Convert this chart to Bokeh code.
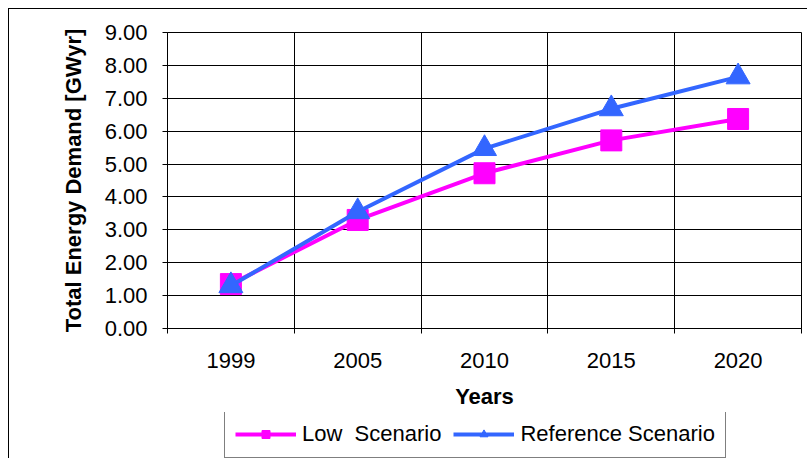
from bokeh.plotting import figure
from bokeh.layouts import column
from bokeh.models import FixedTicker, Legend, LegendItem, ColumnDataSource, NumeralTickFormatter, Range1d
from bokeh.embed import file_html
from bokeh.resources import INLINE

years = ["1999", "2005", "2010", "2015", "2020"]
low_scenario = [1.35, 3.30, 4.72, 5.72, 6.37]
reference_scenario = [1.30, 3.55, 5.47, 6.68, 7.65]
y_ticks = [0, 1, 2, 3, 4, 5, 6, 7, 8, 9]

xpos = list(range(len(years)))
src = ColumnDataSource(dict(x=xpos, low=low_scenario, ref=reference_scenario))

FONT = "Liberation Sans"
FS = "22px"
MAG = "#FF00FF"
BLUE = "#3366FF"

# ---------------- main chart ----------------
p = figure(width=798, height=403, output_backend="svg", toolbar_location=None,
           x_range=Range1d(-0.5, len(years) - 0.5), y_range=Range1d(0, 9),
           min_border_left=158, min_border_right=6, min_border_top=23, min_border_bottom=84)
p.background_fill_color = "white"
p.border_fill_color = "white"
p.outline_line_color = "black"
p.outline_line_width = 1

p.ygrid.ticker = FixedTicker(ticks=y_ticks)
p.ygrid.grid_line_color = "black"
p.ygrid.grid_line_width = 1
p.xgrid.ticker = FixedTicker(ticks=[i + 0.5 for i in xpos[:-1]])
p.xgrid.grid_line_color = "black"
p.xgrid.grid_line_width = 1

ya = p.yaxis[0]
ya.ticker = FixedTicker(ticks=y_ticks)
ya.formatter = NumeralTickFormatter(format="0.00")
ya.major_tick_out = 5
ya.major_tick_in = 0
ya.minor_tick_out = 0
ya.minor_tick_in = 0
ya.major_label_standoff = 15
ya.major_label_text_font = FONT
ya.major_label_text_font_size = FS
ya.major_label_text_color = "black"
ya.axis_line_color = "black"
ya.axis_label = "Total Energy Demand [GWyr]"
ya.axis_label_text_font = FONT
ya.axis_label_text_font_style = "bold"
ya.axis_label_text_font_size = FS
ya.axis_label_text_color = "black"
ya.axis_label_standoff = 16

xa = p.xaxis[0]
xa.ticker = FixedTicker(ticks=xpos, minor_ticks=[i - 0.5 for i in range(len(years) + 1)])
xa.major_label_overrides = {i: y for i, y in enumerate(years)}
xa.major_tick_out = 0
xa.major_tick_in = 0
xa.minor_tick_out = 5
xa.minor_tick_in = 0
xa.minor_tick_line_color = "black"
xa.major_label_standoff = 19
xa.major_label_text_font = FONT
xa.major_label_text_font_size = FS
xa.major_label_text_color = "black"
xa.axis_line_color = "black"
xa.axis_label = "Years"
xa.axis_label_text_font = FONT
xa.axis_label_text_font_style = "bold"
xa.axis_label_text_font_size = FS
xa.axis_label_text_color = "black"
xa.axis_label_standoff = 13

p.line("x", "low", source=src, line_color=MAG, line_width=4)
p.scatter("x", "low", source=src, marker="square", size=21, fill_color=MAG, line_color=MAG)
p.line("x", "ref", source=src, line_color=BLUE, line_width=4)
p.scatter("x", "ref", source=src, marker="triangle", size=24, fill_color=BLUE, line_color=BLUE)

# ---------------- legend strip ----------------
lg = figure(width=798, height=46, output_backend="svg", toolbar_location=None,
            x_range=Range1d(0, 1), y_range=Range1d(0, 1),
            x_axis_location=None, y_axis_location=None, min_border=0)
lg.grid.visible = False
lg.outline_line_color = None
lg.background_fill_color = "white"
lg.border_fill_color = "white"

r1 = lg.line("x", "low", source=src, line_color=MAG, line_width=4, visible=False)
r1m = lg.scatter("x", "low", source=src, marker="square", size=12, fill_color=MAG, line_color=MAG, visible=False)
r2 = lg.line("x", "ref", source=src, line_color=BLUE, line_width=4, visible=False)
r2m = lg.scatter("x", "ref", source=src, marker="triangle", size=16, fill_color=BLUE, line_color=BLUE, visible=False)

legend = Legend(items=[LegendItem(label="Low  Scenario", renderers=[r1, r1m]),
                       LegendItem(label="Reference Scenario", renderers=[r2, r2m])],
                orientation="horizontal", location=(57, 0), click_policy="none")
legend.label_text_font = FONT
legend.label_text_font_size = FS
legend.label_text_color = "black"
legend.glyph_width = 61
legend.glyph_height = 20
legend.label_standoff = 6
legend.spacing = 12
legend.padding = 10
legend.margin = 0
legend.border_line_color = "black"
legend.border_line_width = 1
legend.background_fill_color = "white"
legend.background_fill_alpha = 1
lg.add_layout(legend, "center")

page = column(p, lg, spacing=0,
              styles={"margin-left": "8px", "margin-top": "8px",
                      "border-left": "1px solid black", "border-top": "1px solid black"})

open("out.html", "w").write(file_html(page, INLINE))
